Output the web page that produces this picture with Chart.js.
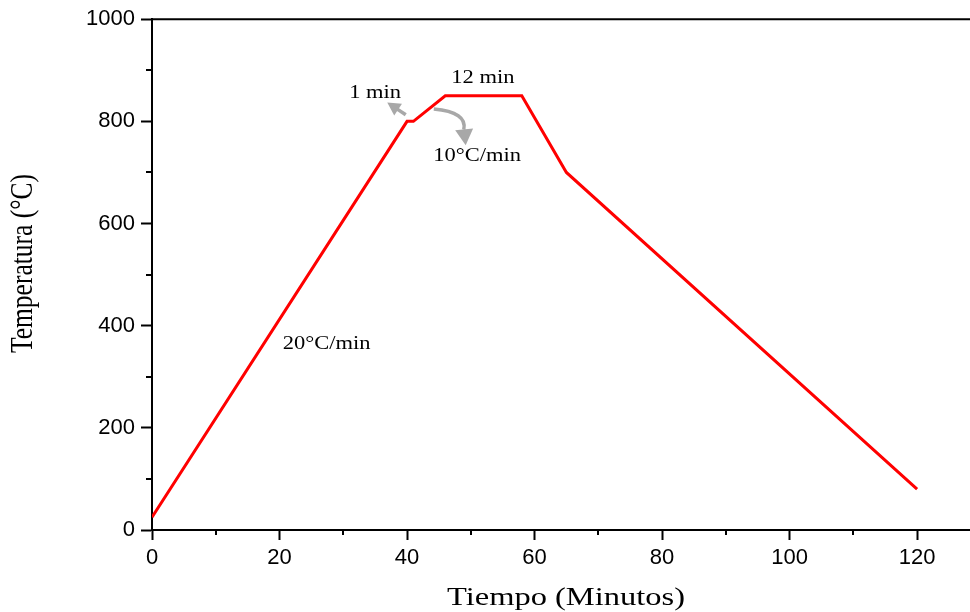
<!DOCTYPE html>
<html>
<head>
<meta charset="utf-8">
<script src="https://cdn.jsdelivr.net/npm/chart.js@4.4.1/dist/chart.umd.min.js"></script>
<style>
  body { margin: 0; background: #fff; }
  #wrap { width: 970px; height: 612px; }
</style>
</head>
<body>
<div id="wrap"><canvas id="perfil"></canvas></div>
<script>
// heating profile
var tiempo = [0, 40, 41, 46, 58, 65, 120];
var temperatura = [25, 800, 800, 850, 850, 700, 80];

var xTicks = [0, 20, 40, 60, 80, 100, 120];
var xMinor = [10, 30, 50, 70, 90, 110];
var yTicks = [0, 200, 400, 600, 800, 1000];
var yMinor = [100, 300, 500, 700, 900];

// annotations in data units (tiempo, temperatura)
var notaTextos = ["1 min", "12 min", "10°C/min", "20°C/min"];
var notaX = [35.0, 51.9, 51.0, 27.4];
var notaY = [845, 876, 723, 355];

var serif = "'Liberation Serif', 'Times New Roman', serif";
var stretch = 1.25;

function stretchedText(ctx, txt, x, y, size) {
    ctx.save();
    ctx.font = size + "px " + serif;
    ctx.fillStyle = "#000";
    ctx.textAlign = "center";
    ctx.textBaseline = "alphabetic";
    ctx.translate(x, y);
    ctx.scale(stretch, 1);
    ctx.fillText(txt, 0, 0);
    ctx.restore();
}

function arrowHead(ctx, tipX, tipY, fromX, fromY, len, half) {
    var a = Math.atan2(tipY - fromY, tipX - fromX);
    ctx.beginPath();
    ctx.moveTo(tipX, tipY);
    ctx.lineTo(tipX - len * Math.cos(a) + half * Math.sin(a), tipY - len * Math.sin(a) - half * Math.cos(a));
    ctx.lineTo(tipX - len * Math.cos(a) - half * Math.sin(a), tipY - len * Math.sin(a) + half * Math.cos(a));
    ctx.closePath();
    ctx.fill();
}

var extras = {
    id: "extras",
    afterDraw: function(chart) {
        var ctx = chart.ctx;
        var xs = chart.scales.x, ys = chart.scales.y;
        var area = chart.chartArea;
        ctx.save();
        // top frame line
        ctx.strokeStyle = "#000";
        ctx.lineWidth = 2;
        ctx.beginPath();
        ctx.moveTo(area.left - 1, area.top);
        ctx.lineTo(area.right, area.top);
        ctx.stroke();
        // minor ticks
        ctx.beginPath();
        xMinor.forEach(function(v) {
            var p = Math.round(xs.getPixelForValue(v));
            ctx.moveTo(p, area.bottom);
            ctx.lineTo(p, area.bottom + 5);
        });
        yMinor.forEach(function(v) {
            var p = Math.round(ys.getPixelForValue(v));
            ctx.moveTo(area.left, p);
            ctx.lineTo(area.left - 6, p);
        });
        ctx.stroke();

        // arrows
        ctx.strokeStyle = "#a8a8a8";
        ctx.fillStyle = "#a8a8a8";
        ctx.lineWidth = 3.5;
        var t1x = xs.getPixelForValue(39.8), t1y = ys.getPixelForValue(813);
        var h1x = xs.getPixelForValue(36.9), h1y = ys.getPixelForValue(837);
        ctx.beginPath();
        ctx.moveTo(t1x, t1y);
        ctx.lineTo(h1x + (t1x - h1x) * 0.5, h1y + (t1y - h1y) * 0.5);
        ctx.stroke();
        arrowHead(ctx, h1x, h1y, t1x, t1y, 13, 7);

        var s2x = xs.getPixelForValue(44.2), s2y = ys.getPixelForValue(824);
        var c2x = xs.getPixelForValue(49.5), c2y = ys.getPixelForValue(818);
        var e2x = xs.getPixelForValue(48.9), e2y = ys.getPixelForValue(784);
        var h2x = xs.getPixelForValue(49.2), h2y = ys.getPixelForValue(753);
        ctx.beginPath();
        ctx.moveTo(s2x, s2y);
        ctx.quadraticCurveTo(c2x, c2y, e2x, e2y);
        ctx.stroke();
        arrowHead(ctx, h2x, h2y, e2x, e2y - 4, 16, 9);

        // labels
        for (var i = 0; i < notaTextos.length; i++) {
            stretchedText(ctx, notaTextos[i], xs.getPixelForValue(notaX[i]), ys.getPixelForValue(notaY[i]), 18);
        }

        // axis titles
        stretchedText(ctx, "Tiempo (Minutos)", (area.left + area.right) / 2 + 5, 605, 26);
        ctx.save();
        ctx.font = "25.5px " + serif;
        ctx.fillStyle = "#000";
        ctx.textAlign = "center";
        ctx.textBaseline = "alphabetic";
        ctx.translate(32, (area.top + area.bottom) / 2 - 11);
        ctx.scale(stretch - 0.05, 1);
        ctx.rotate(-Math.PI / 2);
        ctx.fillText("Temperatura (°C)", 0, 0);
        ctx.restore();
        ctx.restore();
    }
};

function plain(v) { return String(v); }

new Chart("perfil", {
    type: "line",
    data: {
        datasets: [{
            data: tiempo.map(function(t, i) { return { x: t, y: temperatura[i] }; }),
            borderColor: "#ff0000",
            borderWidth: 3,
            pointRadius: 0,
            tension: 0,
            fill: false
        }]
    },
    options: {
        responsive: true,
        maintainAspectRatio: false,
        animation: false,
        layout: { padding: { top: 19, right: 0, left: 0, bottom: 0 } },
        plugins: { legend: { display: false }, tooltip: { enabled: false } },
        scales: {
            x: {
                type: "linear",
                min: 0,
                max: 128.3,
                afterBuildTicks: function(s) { s.ticks = xTicks.map(function(v) { return { value: v }; }); },
                afterFit: function(s) { s.height = 82; },
                grid: { display: true, drawOnChartArea: false, drawTicks: true, tickLength: 10, tickWidth: 2, tickColor: "#000" },
                border: { display: true, color: "#000", width: 2 },
                ticks: { color: "#000", padding: 5, maxRotation: 0, callback: plain, font: { family: "'Liberation Sans', Arial, sans-serif", size: 22 } }
            },
            y: {
                type: "linear",
                min: 0,
                max: 1000,
                afterBuildTicks: function(s) { s.ticks = yTicks.map(function(v) { return { value: v }; }); },
                afterFit: function(s) { s.width = 152; },
                grid: { display: true, drawOnChartArea: false, drawTicks: true, tickLength: 11, tickWidth: 2, tickColor: "#000" },
                border: { display: true, color: "#000", width: 2 },
                ticks: { color: "#000", padding: 6, callback: plain, font: { family: "'Liberation Sans', Arial, sans-serif", size: 22 } }
            }
        }
    },
    plugins: [extras]
});
</script>
</body>
</html>
